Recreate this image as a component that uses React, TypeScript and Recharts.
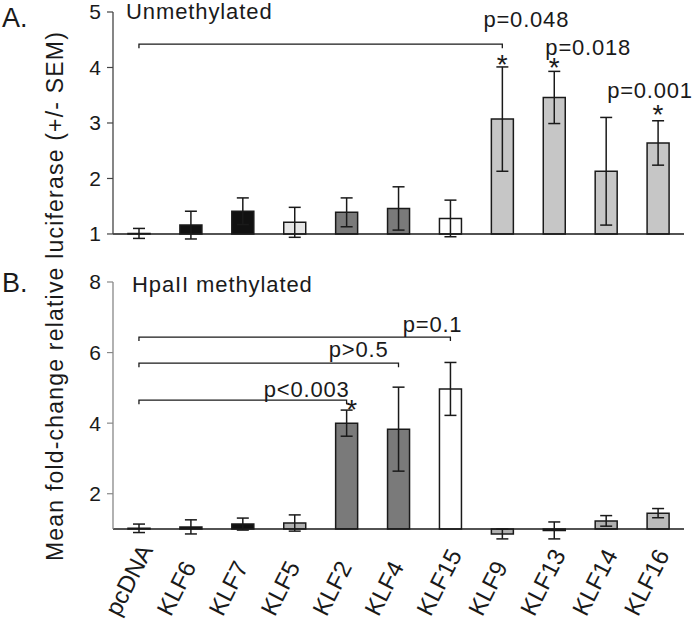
import React from 'react';
import { BarChart, Bar, XAxis, YAxis, ErrorBar, Cell, ReferenceLine, ReferenceDot } from 'recharts';

// ---------- data ----------
const categories = ['pcDNA', 'KLF6', 'KLF7', 'KLF5', 'KLF2', 'KLF4', 'KLF15', 'KLF9', 'KLF13', 'KLF14', 'KLF16'];
const unmethMean = [1.01, 1.16, 1.41, 1.21, 1.39, 1.46, 1.28, 3.07, 3.46, 2.13, 2.64];
const unmethSem = [0.09, 0.25, 0.24, 0.27, 0.26, 0.39, 0.33, 0.94, 0.47, 0.97, 0.4];
const methMean = [1.02, 1.06, 1.14, 1.17, 4.0, 3.83, 4.97, 0.86, 0.96, 1.23, 1.45];
const methSem = [0.12, 0.2, 0.17, 0.23, 0.37, 1.19, 0.75, 0.14, 0.24, 0.15, 0.13];
const ticksA = [1, 2, 3, 4, 5];
const ticksB = [2, 4, 6, 8];
const titleA = 'Unmethylated';
const titleB = 'HpaII methylated';
const yLabel = 'Mean fold-change relative luciferase (+/- SEM)';

const bracketsA = [{ from: 'pcDNA', to: 'KLF9', y: 4.42 }];
const bracketsB = [
  { from: 'pcDNA', to: 'KLF15', y: 6.44 },
  { from: 'pcDNA', to: 'KLF4', y: 5.7 },
  { from: 'pcDNA', to: 'KLF2', y: 4.65 },
];
const pLabelsA = [
  { at: 'KLF9', y: 4.73, text: 'p=0.048' },
  { at: 'KLF13', y: 4.23, text: 'p=0.018' },
  { at: 'KLF16', y: 3.45, text: 'p=0.001' },
];
const pLabelsB = [
  { at: 'KLF15', y: 6.58, text: 'p=0.1' },
  { at: 'KLF4', y: 5.87, text: 'p>0.5' },
  { at: 'KLF2', y: 4.74, text: 'p<0.003' },
];
const starsA = [
  { at: 'KLF9', y: 3.88 },
  { at: 'KLF13', y: 3.83 },
  { at: 'KLF16', y: 2.98 },
];
const starsB = [{ at: 'KLF2', y: 4.12 }];

// ---------- styles ----------
const fillsA = ['#111111', '#111111', '#111111', '#e6e6e6', '#7a7a7a', '#7a7a7a', '#ffffff', '#c6c6c6', '#c6c6c6', '#c6c6c6', '#c6c6c6'];
const fillsB = ['#111111', '#111111', '#111111', '#b0b0b0', '#7a7a7a', '#7a7a7a', '#ffffff', '#b0b0b0', '#b0b0b0', '#b0b0b0', '#bbbbbb'];
const pDxA = [24, 34, -8];
const pAnchorA = ['middle', 'middle', 'middle'];
const pDxB = [12, -10, 3];
const pAnchorB = ['end', 'end', 'end'];
const starDxB = [5];

const FONT = '"Liberation Sans", Arial, Helvetica, sans-serif';
const INK = '#1a1a1a';

const dataA = categories.map((name, i) => ({ name, range: [1, unmethMean[i]], sem: unmethSem[i] }));
const dataB = categories.map((name, i) => ({ name, range: [1, methMean[i]], sem: methSem[i] }));

const Bracket = (props: any) => {
  const { x1, y1, x2, y2 } = props;
  return (
    <path
      d={`M${x1},${y1 + 4}L${x1},${y1}L${x2},${y2}L${x2},${y2 + 4}`}
      stroke={INK}
      strokeWidth={1.3}
      fill="none"
    />
  );
};

const makeText = (text: string, dx: number, anchor: string, size: number) => (props: any) => (
  <text
    x={props.cx + dx}
    y={props.cy}
    textAnchor={anchor as any}
    fontSize={size}
    fontFamily={FONT}
    fill={INK}
    letterSpacing={size > 24 ? 0 : 0.8}
  >
    {text}
  </text>
);

const XTick = (props: any) => {
  const { x, y, payload } = props;
  const px = x - 20;
  const py = y + 70;
  return (
    <text
      x={px}
      y={py}
      transform={`rotate(-63 ${px} ${py})`}
      textAnchor="start"
      fontSize={24}
      fontFamily={FONT}
      fill={INK}
    >
      {payload.value}
    </text>
  );
};

const W = 693;

export default function App() {
  return (
    <div style={{ position: 'absolute', left: 0, top: 0, width: W, height: 623, background: '#fff' }}>
      <div style={{ position: 'absolute', left: 0, top: 0 }}>
        <BarChart width={W} height={250} data={dataA} margin={{ top: 12, right: 9, bottom: 7.7, left: 0 }} barSize={22}>
          <XAxis dataKey="name" hide />
          <YAxis
            type="number"
            domain={[0.85, 5]}
            ticks={ticksA}
            allowDataOverflow
            interval={0}
            width={113}
            axisLine={false}
            tickLine={{ stroke: '#444', strokeWidth: 1.2 }}
            tickSize={6}
            tickMargin={6}
            tick={{ fontSize: 21, fill: INK, fontFamily: FONT }}
          />
          <ReferenceLine y={1} stroke={INK} strokeWidth={1.3} />
          <ReferenceLine
            segment={[{ x: 'pcDNA', y: 1 }, { x: 'pcDNA', y: 5 }]}
            position="start"
            stroke="#444"
            strokeWidth={1.3}
          />
          <Bar dataKey="range" stroke={INK} strokeWidth={1.5} isAnimationActive={false}>
            {dataA.map((d, i) => (
              <Cell key={d.name} fill={fillsA[i]} />
            ))}
            <ErrorBar dataKey="sem" width={6} stroke={INK} strokeWidth={1.5} direction="y" isAnimationActive={false} />
          </Bar>
          {bracketsA.map((b, i) => (
            <ReferenceLine key={'ba' + i} segment={[{ x: b.from, y: b.y }, { x: b.to, y: b.y }]} shape={Bracket} />
          ))}
          {pLabelsA.map((p, i) => (
            <ReferenceDot key={'pa' + i} x={p.at} y={p.y} r={0} shape={makeText(p.text, pDxA[i], pAnchorA[i], 22)} />
          ))}
          {starsA.map((s, i) => (
            <ReferenceDot key={'sa' + i} x={s.at} y={s.y} r={0} shape={makeText('*', 0, 'middle', 28)} />
          ))}
        </BarChart>
      </div>
      <div style={{ position: 'absolute', left: 0, top: 250 }}>
        <BarChart width={W} height={373} data={dataB} margin={{ top: 32, right: 9, bottom: 0, left: 0 }} barSize={22}>
          <XAxis
            dataKey="name"
            interval={0}
            height={83.4}
            axisLine={false}
            tickLine={false}
            tick={<XTick />}
          />
          <YAxis
            type="number"
            domain={[0.7, 8]}
            ticks={ticksB}
            allowDataOverflow
            interval={0}
            width={113}
            axisLine={false}
            tickLine={{ stroke: '#888', strokeWidth: 1.2 }}
            tickSize={6}
            tickMargin={6}
            tick={{ fontSize: 21, fill: INK, fontFamily: FONT }}
          />
          <ReferenceLine y={1} stroke={INK} strokeWidth={1.3} />
          <ReferenceLine
            segment={[{ x: 'pcDNA', y: 1 }, { x: 'pcDNA', y: 8 }]}
            position="start"
            stroke="#888"
            strokeWidth={1.3}
          />
          <Bar dataKey="range" stroke={INK} strokeWidth={1.5} isAnimationActive={false}>
            {dataB.map((d, i) => (
              <Cell key={d.name} fill={fillsB[i]} />
            ))}
            <ErrorBar dataKey="sem" width={6} stroke={INK} strokeWidth={1.5} direction="y" isAnimationActive={false} />
          </Bar>
          {bracketsB.map((b, i) => (
            <ReferenceLine key={'bb' + i} segment={[{ x: b.from, y: b.y }, { x: b.to, y: b.y }]} shape={Bracket} />
          ))}
          {pLabelsB.map((p, i) => (
            <ReferenceDot key={'pb' + i} x={p.at} y={p.y} r={0} shape={makeText(p.text, pDxB[i], pAnchorB[i], 22)} />
          ))}
          {starsB.map((s, i) => (
            <ReferenceDot key={'sb' + i} x={s.at} y={s.y} r={0} shape={makeText('*', starDxB[i], 'middle', 28)} />
          ))}
        </BarChart>
      </div>
      <svg width={W} height={623} style={{ position: 'absolute', left: 0, top: 0, pointerEvents: 'none' }}>
        <text x={2} y={27} fontSize={27} fontFamily={FONT} fill={INK}>A.</text>
        <text x={2} y={292} fontSize={27} fontFamily={FONT} fill={INK}>B.</text>
        <text x={126} y={19} fontSize={22} letterSpacing={0.9} fontFamily={FONT} fill={INK}>{titleA}</text>
        <text x={132} y={292} fontSize={22} letterSpacing={0.9} fontFamily={FONT} fill={INK}>{titleB}</text>
        <text
          transform="translate(63,296) rotate(-90)"
          textAnchor="middle"
          fontSize={23}
          letterSpacing={1.2}
          fontFamily={FONT}
          fill={INK}
        >
          {yLabel}
        </text>
      </svg>
    </div>
  );
}
